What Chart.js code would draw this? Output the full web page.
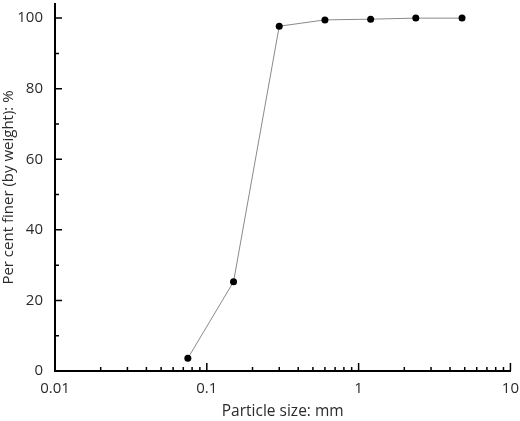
<!DOCTYPE html>
<html>
<head>
<meta charset="utf-8">
<script src="https://cdn.jsdelivr.net/npm/chart.js@4/dist/chart.umd.min.js"></script>
<style>
  html, body { margin: 0; padding: 0; background: #fff; }
  #wrap { width: 520px; height: 421px; }
</style>
</head>
<body>
<div id="wrap"><canvas id="grading"></canvas></div>
<script>
// sieve sizes (mm) and cumulative per cent passing
const sieveSizes = [0.075, 0.15, 0.3, 0.6, 1.2, 2.38, 4.8];
const percentFiner = [3.6, 25.3, 97.7, 99.5, 99.7, 100, 100];

const xMajorTicks = [0.01, 0.1, 1, 10];
const yMajorTicks = [0, 20, 40, 60, 80, 100];
const yMinorTicks = [10, 30, 50, 70, 90];

const textColor = '#2b2b2b';
const fontFamily = '"Open Sans", "Noto Sans", sans-serif';

// minor x ticks: 2..9 in each decade
const xMinorTicks = [];
xMajorTicks.slice(0, -1).forEach(d => {
  for (let k = 2; k <= 9; k++) xMinorTicks.push(d * k);
});

// ticks pointing into the plot area
const inwardTicks = {
  id: 'inwardTicks',
  afterDraw(chart) {
    const {ctx, scales: {x, y}} = chart;
    const x0 = x.getPixelForValue(x.min);
    const y0 = y.getPixelForValue(0);
    ctx.save();
    ctx.strokeStyle = '#000';
    ctx.lineWidth = 1.5;
    ctx.beginPath();
    xMajorTicks.forEach(v => { const px = x.getPixelForValue(v); ctx.moveTo(px, y0); ctx.lineTo(px, y0 - 8); });
    xMinorTicks.forEach(v => { const px = x.getPixelForValue(v); ctx.moveTo(px, y0); ctx.lineTo(px, y0 - 4); });
    yMajorTicks.forEach(v => { const py = y.getPixelForValue(v); ctx.moveTo(x0, py); ctx.lineTo(x0 + 7, py); });
    yMinorTicks.forEach(v => { const py = y.getPixelForValue(v); ctx.moveTo(x0, py); ctx.lineTo(x0 + 4, py); });
    ctx.stroke();
    ctx.restore();
  }
};

const ctx = document.getElementById('grading').getContext('2d');

const chart = new Chart(ctx, {
  type: 'line',
  data: {
    datasets: [{
      data: sieveSizes.map((s, i) => ({x: s, y: percentFiner[i]})),
      borderColor: '#8a8a8a',
      borderWidth: 1,
      pointRadius: 3.5,
      pointBackgroundColor: '#000',
      pointBorderColor: '#000',
      pointBorderWidth: 0,
      tension: 0
    }]
  },
  options: {
    responsive: true,
    maintainAspectRatio: false,
    animation: false,
    layout: { padding: { top: 0, right: 9, left: 0, bottom: 0 } },
    plugins: {
      legend: { display: false },
      tooltip: { enabled: false }
    },
    scales: {
      x: {
        type: 'logarithmic',
        min: 0.01,
        max: 10,
        afterBuildTicks: scale => { scale.ticks = xMajorTicks.map(v => ({value: v})); },
        afterFit: scale => { scale.height = 50; },
        grid: { display: false },
        border: { display: true, color: '#000', width: 2 },
        ticks: {
          color: textColor,
          font: { family: fontFamily, size: 15 },
          padding: 1,
          maxRotation: 0,
          autoSkip: false,
          callback: v => String(v)
        },
        title: {
          display: true,
          text: 'Particle size: mm',
          color: textColor,
          font: { family: fontFamily, size: 15.5 },
          padding: { top: 4, bottom: 0 }
        }
      },
      y: {
        min: 0,
        max: 104,
        afterBuildTicks: scale => { scale.ticks = yMajorTicks.map(v => ({value: v})); },
        afterFit: scale => { scale.width = 55; scale.paddingTop = 0; scale.paddingBottom = 0; },
        grid: { display: false },
        border: { display: true, color: '#000', width: 2 },
        ticks: {
          color: textColor,
          font: { family: fontFamily, size: 15 },
          padding: 4
        },
        title: {
          display: true,
          text: 'Per cent finer (by weight): %',
          color: textColor,
          font: { family: fontFamily, size: 15 },
          padding: { top: 0, bottom: 1 }
        }
      }
    }
  },
  plugins: [inwardTicks]
});
</script>
</body>
</html>
